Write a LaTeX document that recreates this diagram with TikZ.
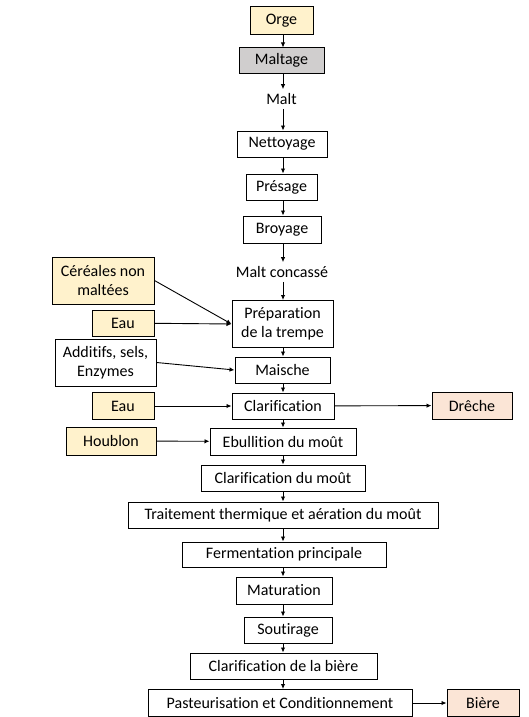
\documentclass[tikz,border=0pt]{standalone}
\usepackage{fontspec}
\setmainfont{Carlito}[Ligatures=NoCommon]
\usetikzlibrary{arrows.meta,positioning}
\definecolor{entreecol}{HTML}{FFF2CC}
\definecolor{grisecol}{HTML}{D0CECE}
\definecolor{sortiecol}{HTML}{FBE5D6}
\newcommand{\boxh}{26pt}
\newcommand{\boxhh}{47pt}

\begin{document}
\begin{tikzpicture}[x=1pt,y=-1pt,font=\fontsize{16}{19}\selectfont]
            \tikzset{etape/.style = {draw, line width=1pt, inner sep=0pt, minimum height=\boxh, align=center},
                     entree/.style = {etape, fill=entreecol},
                     sortie/.style = {etape, fill=sortiecol},
                     fleche/.style = {line width=0.9pt, -{Latex[length=5pt,width=4.5pt]}}}
            \useasboundingbox (0,0) rectangle (528,717);
            \coordinate (axe) at (283,0);
            % chaine principale
            \node[entree, minimum width=63pt, minimum height=28pt] (orge) at (281.5,21) {Orge};
            \node[etape, fill=grisecol, minimum width=85pt, minimum height=25pt] (maltage) at (281.5,60.5) {Maltage};
            \node[inner sep=4pt] (malt) at (281.5,99) {Malt};
            \node[etape, minimum width=90pt] (nettoyage) at (282,144) {Nettoyage};
            \node[etape, minimum width=71pt] (presage) at (281.5,187) {Présage};
            \node[etape, minimum width=78pt, minimum height=27pt] (broyage) at (282,229.5) {Broyage};
            \node[inner sep=4pt] (concasse) at (282,272) {Malt concassé};
            \node[etape, minimum width=101pt, minimum height=\boxhh] (trempe) at (282.5,324) {Préparation\\de la trempe};
            \node[etape, minimum width=95pt] (maische) at (282.5,370) {Maische};
            \node[etape, minimum width=102pt] (clarif) at (283,406) {Clarification};
            \node[etape, minimum width=146pt, minimum height=27pt] (ebullition) at (283,441.5) {Ebullition du moût};
            \node[etape, minimum width=164pt] (clarifmout) at (283,478) {Clarification du moût};
            \node[etape, minimum width=310pt] (traitement) at (283,515) {Traitement thermique et aération du moût};
            \node[etape, minimum width=204pt, minimum height=25pt] (fermentation) at (284,554.5) {Fermentation principale};
            \node[etape, minimum width=96pt, minimum height=27pt] (maturation) at (284,590.5) {Maturation};
            \node[etape, minimum width=88pt] (soutirage) at (288,630) {Soutirage};
            \node[etape, minimum width=187pt] (clarifbiere) at (283.5,666) {Clarification de la bière};
            \node[etape, minimum width=264pt, minimum height=27pt] (pasteur) at (280,703) {Pasteurisation et Conditionnement};
            % entrees et sorties
            \node[entree, minimum width=102pt, minimum height=\boxhh] (cereales) at (103,280.5) {Céréales non\\maltées};
            \node[entree, minimum width=62pt] (eaua) at (123,323) {Eau};
            \node[etape, minimum width=101pt, minimum height=\boxhh] (additifs) at (105.5,362.5) {Additifs, sels,\\Enzymes};
            \node[entree, minimum width=62pt, minimum height=27pt] (eaub) at (123,406) {Eau};
            \node[entree, minimum width=90pt, minimum height=28pt] (houblon) at (111,441) {Houblon};
            \node[sortie, minimum width=80pt, minimum height=27pt] (dreche) at (472,405.5) {Drêche};
            \node[sortie, minimum width=72pt, minimum height=27pt] (biere) at (483,703) {Bière};

            \foreach \a/\b in {orge/maltage, maltage/malt, malt/nettoyage, nettoyage/presage, presage/broyage,
                               broyage/concasse, concasse/trempe, trempe/maische, maische/clarif, clarif/ebullition,
                               ebullition/clarifmout, clarifmout/traitement, traitement/fermentation,
                               fermentation/maturation, maturation/soutirage, soutirage/clarifbiere, clarifbiere/pasteur}
                \draw[fleche] (\a.south -| axe) -- (\b.north -| axe);

            \draw[fleche] (cereales.east) -- (trempe.west);
            \draw[fleche] (eaua) -- (trempe.west);
            \draw[fleche] (additifs.east) -- (maische.west);
            \draw[fleche] (eaub) -- (clarif);
            \draw[fleche] (houblon) -- (ebullition);
            \draw[fleche] (clarif) -- (dreche);
            \draw[fleche] (pasteur) -- (biere);
        \end{tikzpicture}
\end{document}
